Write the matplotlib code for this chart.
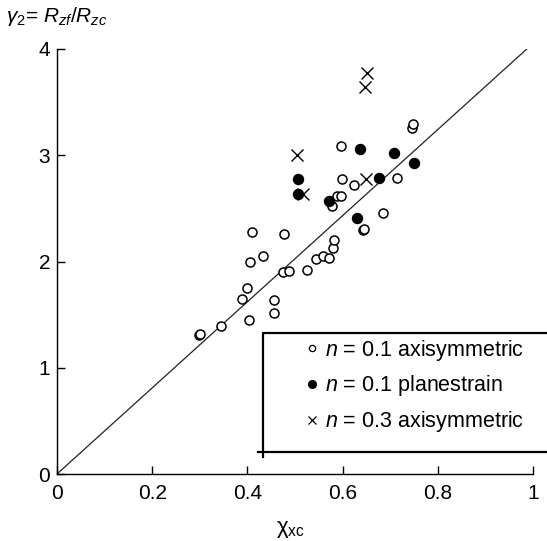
import matplotlib
matplotlib.use('Agg')
import matplotlib.pyplot as plt
from matplotlib.lines import Line2D

plt.rcParams['font.family'] = ['Liberation Sans', 'DejaVu Sans']
plt.rcParams['mathtext.fontset'] = 'custom'
plt.rcParams['mathtext.rm'] = 'Liberation Sans'
plt.rcParams['mathtext.it'] = 'Liberation Sans:italic'

# n = 0.1 axisymmetric (open circles)
open_x = [0.299, 0.301, 0.345, 0.389, 0.399, 0.403, 0.405, 0.410, 0.433, 0.456,
          0.456, 0.475, 0.477, 0.487, 0.525, 0.544, 0.559, 0.571, 0.578, 0.580,
          0.582, 0.588, 0.597, 0.597, 0.599, 0.624, 0.642, 0.644, 0.685, 0.714,
          0.746, 0.748]
open_y = [1.31, 1.32, 1.39, 1.65, 1.75, 1.45, 2.00, 2.28, 2.05, 1.52,
          1.64, 1.90, 2.26, 1.91, 1.92, 2.02, 2.05, 2.03, 2.52, 2.13,
          2.20, 2.62, 2.62, 3.09, 2.78, 2.72, 2.30, 2.31, 2.46, 2.79,
          3.26, 3.29]

# n = 0.1 planestrain (filled circles)
fill_x = [0.506, 0.506, 0.571, 0.630, 0.637, 0.676, 0.708, 0.750]
fill_y = [2.78, 2.64, 2.57, 2.41, 3.06, 2.79, 3.02, 2.93]

# n = 0.3 axisymmetric (crosses)
cross_x = [0.504, 0.517, 0.647, 0.651, 0.649]
cross_y = [3.00, 2.64, 3.64, 3.77, 2.78]

line_x = [0, 0.987]
line_y = [0, 4.0]

labels = [r'$n$ = 0.1 axisymmetric', r'$n$ = 0.1 planestrain', r'$n$ = 0.3 axisymmetric']

fig = plt.figure(figsize=(5.47, 5.41), dpi=100)
ax = fig.add_axes([57/547, 67/541, 476/547, 425/541])

ax.plot(line_x, line_y, color='#222222', lw=0.9)
ax.plot(open_x, open_y, 'o', mfc='white', mec='black', ms=6.5, mew=1.1, ls='none')
ax.plot(fill_x, fill_y, 'o', mfc='black', mec='black', ms=7.2, ls='none')
ax.plot(cross_x, cross_y, 'x', color='black', ms=9, mew=1.0, ls='none')

ax.set_xlim(0, 1)
ax.set_ylim(0, 4)
ax.set_xticks([0, 0.2, 0.4, 0.6, 0.8, 1])
ax.set_xticklabels(['0', '0.2', '0.4', '0.6', '0.8', '1'])
ax.set_yticks([0, 1, 2, 3, 4])
ax.set_yticklabels(['0', '1', '2', '3', '4'])
ax.tick_params(direction='in', length=6, width=1, labelsize=15)
ax.tick_params(axis='x', pad=7)
ax.tick_params(axis='y', pad=5)
for s in ['top', 'right']:
    ax.spines[s].set_visible(False)
for s in ['left', 'bottom']:
    ax.spines[s].set_linewidth(1.0)

fig.text(290/547, 1 - 530/541, r'χ$_{\mathrm{xc}}$', ha='center', va='center', fontsize=16)
fig.text(6/547, 1 - 16/541, r'$\gamma_2$= $R_{zf}$/$R_{zc}$', ha='left', va='center', fontsize=15)

# legend box (runs off the right edge of the figure)
W, H = 547, 541
box = [(263, 457), (263, 333), (560, 333)]
fig.add_artist(Line2D([p[0]/W for p in box], [1 - p[1]/H for p in box],
                      transform=fig.transFigure, color='black', lw=1.6))
fig.add_artist(Line2D([258/W, 560/W], [1 - 452/H, 1 - 452/H],
                      transform=fig.transFigure, color='black', lw=1.6))

handles = [
    Line2D([], [], marker='o', ls='none', mfc='white', mec='black', ms=4.5, mew=0.9),
    Line2D([], [], marker='o', ls='none', mfc='black', mec='black', ms=5.5),
    Line2D([], [], marker='x', ls='none', color='black', ms=6, mew=0.9),
]
fig.legend(handles, labels, loc='center left', bbox_to_anchor=(295/W, 1 - 386/H),
           frameon=False, fontsize=15.5, handlelength=0.6, handletextpad=0.3,
           labelspacing=0.5, borderpad=0)

fig.savefig('out.png', dpi=100)
